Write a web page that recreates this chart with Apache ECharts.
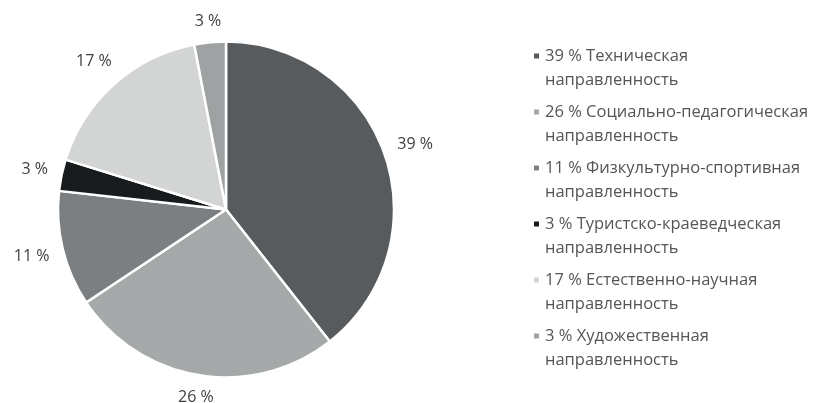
<!DOCTYPE html>
<html>
<head>
<meta charset="utf-8">
<script src="https://cdn.jsdelivr.net/npm/echarts@6/dist/echarts.min.js"></script>
<style>
html,body{margin:0;padding:0;background:#fff;}
#chart{width:813px;height:403px;}
</style>
</head>
<body>
<div id="chart"></div>
<script>
const categories = [
  "Техническая направленность",
  "Социально-педагогическая направленность",
  "Физкультурно-спортивная направленность",
  "Туристско-краеведческая направленность",
  "Естественно-научная направленность",
  "Художественная направленность"
];
const values = [39, 26, 11, 3, 17, 3];
const colors = ["#585b5d", "#a6a9aa", "#7c7f82", "#181b1d", "#d3d4d4", "#9fa2a3"];

const CX = 226, CY = 209.5, R = 168, GAP = 13;
const FONT = "Open Sans";

const chart = echarts.init(document.getElementById('chart'), null, {renderer: 'canvas'});

const data = categories.map((n, i) => ({name: n, value: values[i], itemStyle: {color: colors[i]}}));

function legendText(name) {
  const i = categories.indexOf(name);
  const k = name.lastIndexOf(' ');
  return '\n' + values[i] + ' % ' + name.slice(0, k) + '\n' + name.slice(k + 1);
}

chart.setOption({
  animation: false,
  backgroundColor: '#ffffff',
  legend: {
    orient: 'vertical',
    left: 532,
    top: 20,
    padding: 0,
    itemGap: -16,
    itemWidth: 7,
    itemHeight: 7,
    icon: 'rect',
    selectedMode: false,
    formatter: legendText,
    textStyle: {fontFamily: FONT, fontSize: 16.5, color: '#555555', lineHeight: 24}
  },
  series: [{
    type: 'pie',
    center: [CX, CY],
    radius: [0, R],
    startAngle: 90,
    clockwise: true,
    avoidLabelOverlap: false,
    data: data,
    itemStyle: {borderColor: '#ffffff', borderWidth: 2.5},
    label: {
      show: true,
      position: 'inside',
      formatter: '{c} %',
      fontFamily: FONT,
      fontSize: 16,
      lineHeight: 16,
      color: '#404040'
    },
    labelLine: {show: false},
    emphasis: {disabled: true},
    labelLayout: function (p) {
      const lr = p.labelRect;
      const mx = lr.x + lr.width / 2, my = lr.y + lr.height / 2;
      let ux = mx - CX, uy = my - CY;
      const len = Math.sqrt(ux * ux + uy * uy) || 1;
      ux /= len; uy /= len;
      const d = R + GAP + (lr.width / 2) * Math.abs(ux) + 7 * Math.abs(uy);
      return {x: CX + d * ux, y: CY + d * uy, align: 'center', verticalAlign: 'middle'};
    }
  }]
});
</script>
</body>
</html>
